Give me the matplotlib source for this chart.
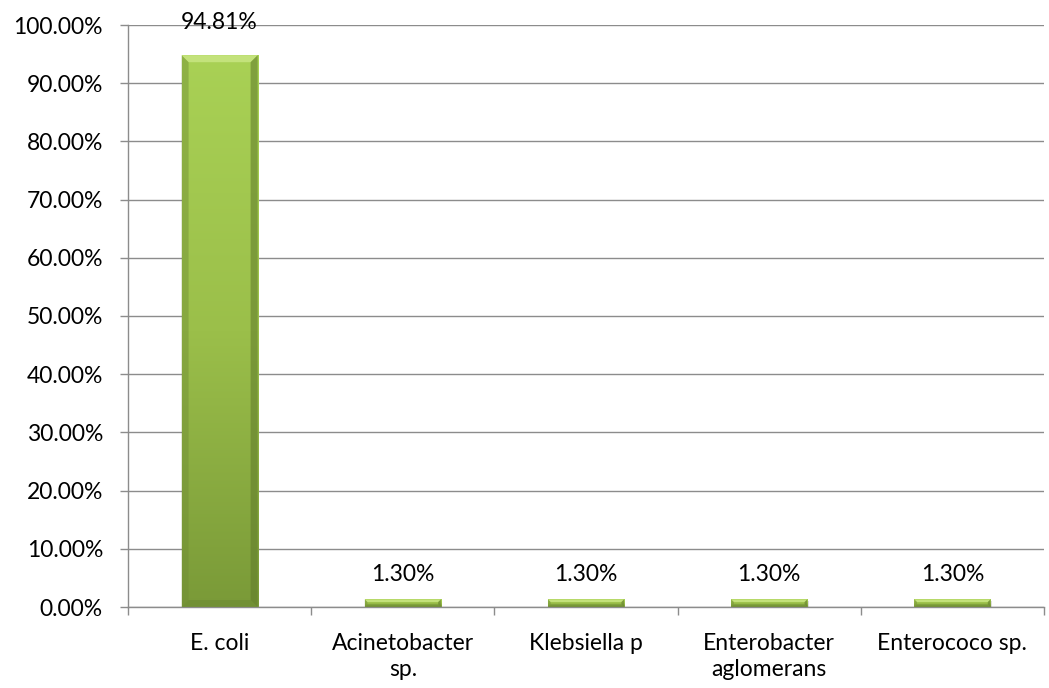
import matplotlib
matplotlib.use("Agg")
import matplotlib.pyplot as plt
import numpy as np
from matplotlib.colors import LinearSegmentedColormap
from matplotlib.patches import Polygon

categories = ["E. coli", "Acinetobacter\nsp.", "Klebsiella p", "Enterobacter\naglomerans", "Enterococo sp."]
values = [94.81, 1.30, 1.30, 1.30, 1.30]
labels = ["94.81%", "1.30%", "1.30%", "1.30%", "1.30%"]
yticks = [0, 10, 20, 30, 40, 50, 60, 70, 80, 90, 100]

plt.rcParams['font.family'] = ['Lato', 'DejaVu Sans']
FS = 16.5

fig = plt.figure(figsize=(10.49, 6.88), dpi=100)
ax = fig.add_axes([128/1049, 1-607/688, (1044-128)/1049, (607-25)/688])

x = np.arange(len(categories))
width = 0.415
bars = ax.bar(x, values, width=width, color="#9bbf4a", edgecolor="none", zorder=2)

cmap = LinearSegmentedColormap.from_list("g", ["#7a9a38", "#9bbf4a", "#a9d155"])
grad = np.linspace(0, 1, 256).reshape(-1, 1)
bx_px = 7.0
px_per_unit_y = (607 - 25) / 100.0
for b in bars:
    x0, w, h = b.get_x(), b.get_width(), b.get_height()
    ax.add_patch(Polygon([[x0 + 0.005, -0.2], [x0 + w + 0.008, -0.2], [x0 + w + 0.008, h - 0.3], [x0 + 0.005, h - 0.3]],
                         closed=True, facecolor="#000000", edgecolor="none", alpha=0.12, zorder=1.9))
    im = ax.imshow(grad, cmap=cmap, aspect="auto", origin="lower",
                   extent=[x0, x0 + w, 0, h], zorder=2)
    im.set_clip_path(b)
    by = min(bx_px / px_per_unit_y, h * 0.35)
    bxu = min(bx_px / 183.0, w * 0.2)
    if h <= 3:
        bxu = min(bxu, by * px_per_unit_y / 183.0)
    ax.add_patch(Polygon([[x0, h], [x0 + w, h], [x0 + w - bxu, h - by], [x0 + bxu, h - by]],
                         closed=True, facecolor="#c9e682", edgecolor="none", alpha=0.85, zorder=3))
    ax.add_patch(Polygon([[x0, 0], [x0, h], [x0 + bxu, h - by], [x0 + bxu, by]],
                         closed=True, facecolor="#6f8c34", edgecolor="none", alpha=0.45, zorder=3))
    ax.add_patch(Polygon([[x0 + w, 0], [x0 + w, h], [x0 + w - bxu, h - by], [x0 + w - bxu, by]],
                         closed=True, facecolor="#5f7a2b", edgecolor="none", alpha=0.55, zorder=3))
    ax.add_patch(Polygon([[x0, 0], [x0 + w, 0], [x0 + w - bxu, by], [x0 + bxu, by]],
                         closed=True, facecolor="#6a8831", edgecolor="none", alpha=0.5, zorder=3))

for xi, v, lab in zip(x, values, labels):
    off = 19 if v > 50 else 13
    ax.annotate(lab, (xi, v), xytext=(0, off), textcoords="offset points",
                ha="center", va="baseline", fontsize=FS, color="#000000", annotation_clip=False)

ax.set_xlim(-0.5, len(categories) - 0.5)
ax.set_ylim(0, 100)
ax.set_yticks(yticks)
ax.set_yticklabels([f"{t:.2f}%" for t in yticks], fontsize=FS)
ax.yaxis.grid(True, color="#8c8c8c", linewidth=1.0, zorder=0)
ax.set_axisbelow(True)

ax.set_xticks(x)
ax.set_xticklabels(categories, fontsize=FS, linespacing=1.25)
ax.set_xticks(np.arange(len(categories) + 1) - 0.5, minor=True)
ax.tick_params(axis="x", which="major", length=0, pad=19)
ax.tick_params(axis="x", which="minor", length=6, color="#8c8c8c", width=1)
ax.tick_params(axis="y", length=6, color="#8c8c8c", width=1, pad=12)

for s in ["top", "right"]:
    ax.spines[s].set_visible(False)
for s in ["left", "bottom"]:
    ax.spines[s].set_color("#8c8c8c")
    ax.spines[s].set_linewidth(1.0)

fig.savefig("out.png", dpi=100, facecolor="white")
